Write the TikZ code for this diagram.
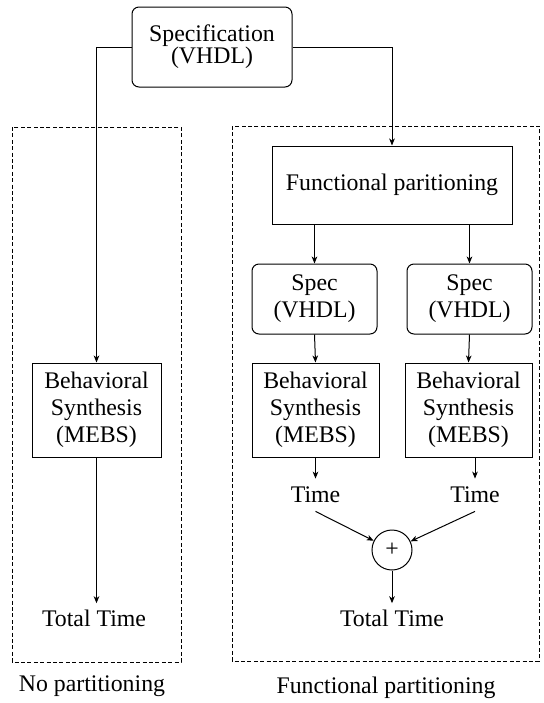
\documentclass[tikz,border=0pt]{standalone}
\usepackage{fontspec}
\setmainfont{Liberation Serif}
\usetikzlibrary{arrows.meta}

\begin{document}
\begin{tikzpicture}[x=0.5pt,y=-0.5pt,
  every node/.style={font=\fontsize{11.9}{13.5}\selectfont, align=center, inner sep=0pt},
  rbox/.style={draw, rounded corners=3.5pt, line width=0.5pt},
  sbox/.style={draw, line width=0.5pt},
  frame/.style={draw, dash pattern=on 2pt off 1.2pt, line width=0.45pt},
  conn/.style={line width=0.5pt, -{Stealth[length=3.5pt,width=2.8pt,inset=1pt]}},
  plain/.style={line width=0.5pt},
  timelabel/.style={inner sep=4pt},
  total/.style={inner sep=3pt}
]
\useasboundingbox (0,0) rectangle (543,703);

% dashed frames round the two flows
\draw[frame] (12,127) rectangle (181,662);
\draw[frame] (232,126) rectangle (539,661);

% top-level specification
\node[rbox, minimum width=80pt, minimum height=40pt,
      font=\fontsize{11.9}{11}\selectfont] (spec) at (212,47) {Specification\\(VHDL)};

% left flow: no partitioning
\node[sbox, minimum width=64.5pt, minimum height=47pt] (bL) at (96.5,410) {Behavioral\\Synthesis\\(MEBS)};
\node[total] (totL) at (94,618) {Total Time};

% right flow: functional partitioning
\node[sbox, minimum width=120pt, minimum height=39pt] (func) at (392,185) {Functional paritioning};
\node[rbox, minimum width=62.5pt, minimum height=35pt] (specL) at (314.5,299) {Spec\\(VHDL)};
\node[rbox, minimum width=62.5pt, minimum height=35pt] (specR) at (469.5,299) {Spec\\(VHDL)};
\node[sbox, minimum width=63.5pt, minimum height=47pt] (bM) at (315.5,410) {Behavioral\\Synthesis\\(MEBS)};
\node[sbox, minimum width=63.5pt, minimum height=47pt] (bR) at (468.5,410) {Behavioral\\Synthesis\\(MEBS)};
\node[timelabel] (timeL) at (315.5,495) {Time};
\node[timelabel] (timeR) at (475,495) {Time};
\node[draw, circle, minimum size=20pt, line width=0.5pt] (plus) at (392,550) {+};
\node[total] (totR) at (392,618) {Total Time};

% captions
\node (capL) at (92,686) {No partitioning};
\node (capR) at (386,688) {Functional partitioning};

% connectors
\draw[conn] (spec.west) -| (bL.north);
\draw[conn] (spec.east) -| (func.north);
\draw[conn] (bL.south) -- (totL.north -| bL.south);
\draw[conn] (func.south -| specL.north) -- (specL.north);
\draw[conn] (func.south -| specR.north) -- (specR.north);
\draw[conn] (specL.south) -- (bM.north);
\draw[conn] (specR.south) -- (bR.north);
\draw[conn] (bM.south) -- (timeL.north -| bM.south);
\draw[conn] (bR.south -| timeR.north) -- (timeR.north);
\draw[conn] (timeL.south) -- (plus);
\draw[conn] (timeR.south) -- (plus);
\draw[conn] (plus.south) -- (totR.north);
\end{tikzpicture}
\end{document}
